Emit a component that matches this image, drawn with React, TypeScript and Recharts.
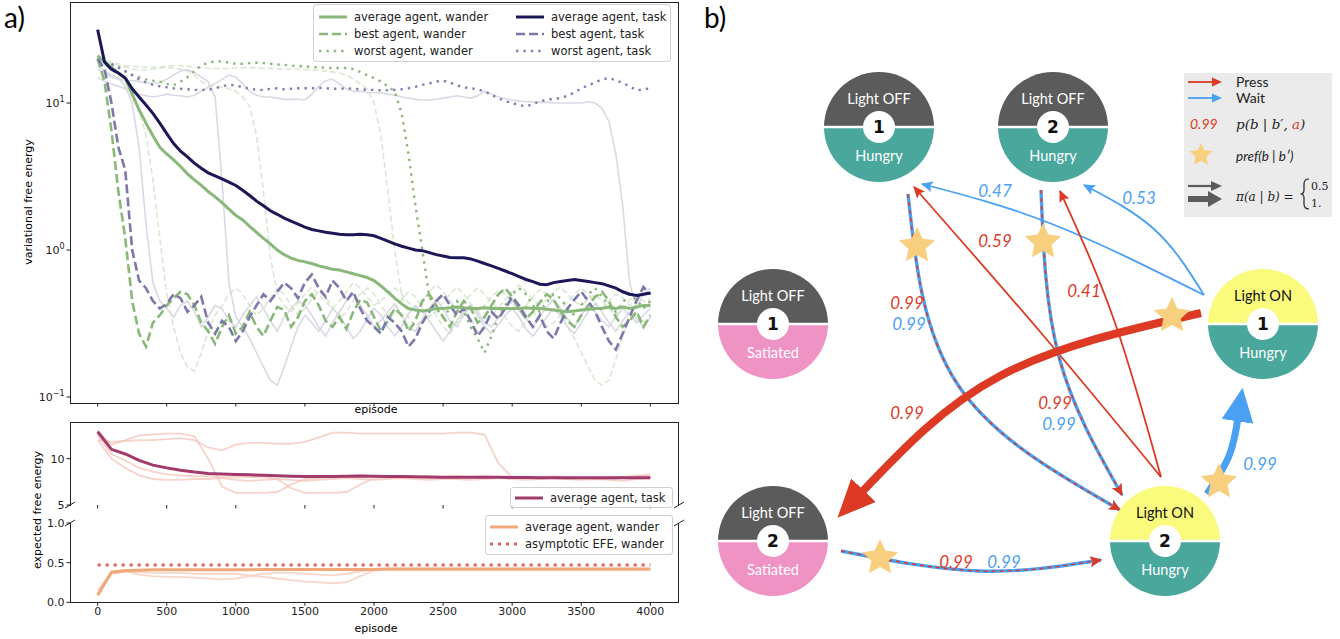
import { LineChart, Line, XAxis, YAxis, ComposedChart, Scatter } from 'recharts'

// ---------- panel a: sample grid and series ----------
const EPISODES = [
  0, 50, 100, 150, 200, 250, 300, 350, 400, 450,
  500, 550, 600, 650, 700, 750, 800, 850, 900, 950,
  1000, 1050, 1100, 1150, 1200, 1250, 1300, 1350, 1400, 1450,
  1500, 1550, 1600, 1650, 1700, 1750, 1800, 1850, 1900, 1950,
  2000, 2050, 2100, 2150, 2200, 2250, 2300, 2350, 2400, 2450,
  2500, 2550, 2600, 2650, 2700, 2750, 2800, 2850, 2900, 2950,
  3000, 3050, 3100, 3150, 3200, 3250, 3300, 3350, 3400, 3450,
  3500, 3550, 3600, 3650, 3700, 3750, 3800, 3850, 3900, 3950,
  4000,
]

const EPISODES_COARSE = [
  0, 100, 200, 300, 400, 500, 600, 700, 800, 900,
  1000, 1100, 1200, 1300, 1400, 1500, 1600, 1700, 1800, 1900,
  2000, 2100, 2200, 2300, 2400, 2500, 2600, 2700, 2800, 2900,
  3000, 3100, 3200, 3300, 3400, 3500, 3600, 3700, 3800, 3900,
  4000,
]

const EP_TICKS = [0, 500, 1000, 1500, 2000, 2500, 3000, 3500, 4000]

const vfeAvgWander = [
  21, 19, 17.5, 16, 14.8, 11.5, 9, 7.3, 6.0, 5.0,
  4.5, 4.1, 3.7, 3.3, 3.0, 2.75, 2.5, 2.3, 2.1, 1.9,
  1.72, 1.6, 1.45, 1.32, 1.2, 1.1, 1.0, 0.93, 0.88, 0.85,
  0.83, 0.81, 0.78, 0.76, 0.74, 0.73, 0.71, 0.69, 0.67, 0.65,
  0.62, 0.57, 0.52, 0.47, 0.43, 0.40, 0.39, 0.385, 0.39, 0.40,
  0.40, 0.405, 0.41, 0.405, 0.40, 0.40, 0.405, 0.40, 0.40, 0.40,
  0.40, 0.40, 0.405, 0.40, 0.40, 0.395, 0.39, 0.385, 0.38, 0.385,
  0.39, 0.395, 0.40, 0.40, 0.41, 0.40, 0.41, 0.40, 0.41, 0.42,
  0.42,
]

const vfeAvgTask = [
  31.6, 19, 17, 16, 14.8, 12.5, 11, 9.7, 8.5, 7.3,
  6.2, 5.3, 4.7, 4.3, 3.9, 3.6, 3.35, 3.2, 3.05, 2.9,
  2.75, 2.55, 2.35, 2.15, 2.0, 1.85, 1.75, 1.65, 1.57, 1.5,
  1.43, 1.38, 1.35, 1.32, 1.3, 1.28, 1.27, 1.27, 1.28, 1.27,
  1.25, 1.2, 1.15, 1.1, 1.06, 1.03, 1.0, 0.99, 0.96, 0.93,
  0.91, 0.89, 0.885, 0.885, 0.87, 0.84, 0.81, 0.78, 0.75, 0.72,
  0.69, 0.66, 0.63, 0.61, 0.585, 0.58, 0.6, 0.61, 0.62, 0.63,
  0.62, 0.61, 0.6, 0.59, 0.57, 0.55, 0.52, 0.5, 0.49, 0.5,
  0.51,
]

const vfeBestWander = [
  20, 14, 6.5, 2.5, 1.2, 0.45, 0.27, 0.22, 0.32, 0.36,
  0.42, 0.47, 0.52, 0.5, 0.42, 0.32, 0.28, 0.23, 0.3, 0.36,
  0.27, 0.3, 0.38, 0.3, 0.26, 0.33, 0.41, 0.39, 0.3, 0.35,
  0.45, 0.5, 0.42, 0.33, 0.3, 0.35, 0.29, 0.38, 0.46, 0.44,
  0.35, 0.28, 0.33, 0.4, 0.36, 0.28, 0.33, 0.45, 0.5, 0.42,
  0.35, 0.3, 0.38, 0.45, 0.4, 0.32, 0.35, 0.42, 0.5, 0.55,
  0.48, 0.4, 0.34, 0.38, 0.44, 0.5, 0.46, 0.38, 0.33, 0.3,
  0.36, 0.42, 0.48, 0.52, 0.45, 0.35, 0.3, 0.33, 0.38, 0.3,
  0.36,
]

const vfeBestTask = [
  20, 17, 10, 5, 3.5, 1.0, 0.62, 0.55, 0.45, 0.4,
  0.43, 0.5, 0.47, 0.38, 0.42, 0.48, 0.32, 0.27, 0.33, 0.3,
  0.24, 0.28, 0.35, 0.42, 0.5, 0.45, 0.52, 0.6, 0.55, 0.47,
  0.6, 0.68, 0.55, 0.48, 0.62, 0.55, 0.45, 0.52, 0.4, 0.33,
  0.3, 0.27, 0.35, 0.32, 0.28, 0.22, 0.25, 0.32, 0.38, 0.45,
  0.5, 0.42, 0.36, 0.4, 0.33, 0.26, 0.3, 0.38, 0.34, 0.4,
  0.48, 0.42, 0.35, 0.3, 0.36, 0.28, 0.25, 0.32, 0.4, 0.46,
  0.52, 0.45, 0.38, 0.3, 0.24, 0.21, 0.27, 0.35, 0.45, 0.56,
  0.5,
]

const vfeWorstWander = [
  20, 19, 18, 17.5, 16.4, 15.5, 15, 14.5, 14.2, 14,
  13.5, 13.2, 14, 15, 16.5, 18, 18.8, 19.2, 19.2, 18.8,
  18.5, 18.5, 18.7, 18.8, 18.7, 18.5, 18.3, 18.2, 18, 17.8,
  17.8, 17.6, 17.5, 17.4, 17.3, 17.3, 17.3, 17, 16.3, 15.5,
  14.8, 14, 13, 12, 8.5, 4.5, 2.0, 1.0, 0.48, 0.4,
  0.35, 0.4, 0.45, 0.38, 0.3, 0.25, 0.2, 0.26, 0.35, 0.42,
  0.5, 0.55, 0.5, 0.42, 0.38, 0.44, 0.5, 0.47, 0.4, 0.36,
  0.42, 0.5, 0.55, 0.48, 0.42, 0.38, 0.44, 0.5, 0.46, 0.4,
  0.45,
]

const vfeWorstTask = [
  20, 19, 18.5, 17.5, 16.5, 15.5, 14.5, 13.8, 13.3, 13,
  12.8, 12.6, 12.5, 12.4, 12.3, 12.3, 12.3, 12.6, 13, 13.3,
  13.2, 12.8, 12.5, 12.3, 12.3, 12.5, 12.6, 12.4, 12.5, 12.6,
  12.6, 12.6, 12.7, 12.6, 12.5, 12.5, 12.6, 12.5, 12.4, 12.3,
  12.3, 12.2, 12.2, 12.3, 12.4, 12.6, 12.9, 13.3, 13.6, 14,
  14.2, 13.8, 13.2, 12.8, 12.6, 12.4, 12.0, 11.4, 10.8, 10.3,
  10, 9.7, 9.5, 9.8, 10.3, 10.5, 10.7, 10.8, 11.2, 11.8,
  12.6, 13.2, 13.8, 14.5, 14.8, 14.3, 13.7, 13, 12.2, 12.4,
  12.6,
]

// individual agents, drawn faint
const vfeGrayA = [
  18, 16.5, 15.5, 14.8, 13, 10, 5, 1.5, 0.6, 0.45,
  0.4, 0.35, 0.42, 0.45, 0.38, 0.3, 0.35, 0.42, 0.4, 0.33,
  0.3, 0.36, 0.42, 0.48, 0.4, 0.33, 0.28, 0.35, 0.4, 0.45,
  0.42, 0.36, 0.3, 0.26, 0.32, 0.38, 0.45, 0.5, 0.42, 0.36,
  0.3, 0.33, 0.38, 0.43, 0.36, 0.3, 0.28, 0.34, 0.4, 0.46,
  0.4, 0.33, 0.3, 0.36, 0.42, 0.38, 0.32, 0.3, 0.35, 0.4,
  0.45, 0.4, 0.34, 0.3, 0.35, 0.41, 0.46, 0.4, 0.34, 0.3,
  0.36, 0.42, 0.38, 0.33, 0.3, 0.35, 0.4, 0.36, 0.32, 0.36,
  0.4,
]

const vfeGrayB = [
  17, 16, 15, 14.5, 14.3, 14.2, 14, 13.8, 13.6, 13.8,
  14.5, 15.5, 16.5, 16.8, 16.2, 15, 14, 11, 3, 0.6,
  0.35, 0.3, 0.25, 0.2, 0.16, 0.13, 0.12, 0.16, 0.22, 0.3,
  0.36, 0.32, 0.28, 0.33, 0.4, 0.36, 0.3, 0.25, 0.28, 0.34,
  0.4, 0.36, 0.3, 0.26, 0.3, 0.37, 0.42, 0.38, 0.33, 0.28,
  0.24, 0.28, 0.33, 0.38, 0.42, 0.36, 0.3, 0.27, 0.31, 0.36,
  0.4, 0.35, 0.29, 0.26, 0.3, 0.35, 0.4, 0.36, 0.3, 0.27,
  0.32, 0.38, 0.43, 0.38, 0.32, 0.28, 0.33, 0.38, 0.34, 0.3,
  0.35,
]

const vfeGrayC = [
  15, 14, 13.5, 13, 12.5, 12, 11.5, 11.2, 11, 11.2,
  11.5, 11.3, 11.2, 11, 11.3, 12, 12.8, 13.5, 14.5, 15.5,
  15, 13.5, 12, 11.3, 11, 11, 10.8, 10.6, 10.6, 10.6,
  10.5, 11.5, 13, 14.2, 14.5, 13.5, 12.5, 12, 12, 11.8,
  11.8, 11.7, 11.5, 11.3, 11, 10.8, 10.6, 10.5, 10.5, 10.6,
  10.8, 11, 11.2, 11, 10.8, 11.2, 12, 11.5, 11, 10.7,
  10.5, 10.3, 10.2, 10.2, 10.1, 10.1, 10, 10, 10, 10,
  10, 10.2, 10, 9.2, 7.5, 4.5, 2, 0.6, 0.4, 0.5,
  0.55,
]

const vfeLightA = [
  20, 18, 17, 15, 13, 11, 9, 6, 3, 1.2,
  0.5, 0.3, 0.2, 0.16, 0.15, 0.2, 0.28, 0.36, 0.42, 0.5,
  0.55, 0.5, 0.42, 0.36, 0.4, 0.47, 0.55, 0.5, 0.42, 0.36,
  0.4, 0.46, 0.52, 0.48, 0.4, 0.34, 0.38, 0.45, 0.5, 0.55,
  0.5, 0.42, 0.36, 0.4, 0.46, 0.52, 0.48, 0.4, 0.35, 0.38,
  0.44, 0.5, 0.56, 0.5, 0.43, 0.38, 0.42, 0.48, 0.53, 0.5,
  0.44, 0.38, 0.42, 0.48, 0.54, 0.5, 0.44, 0.4, 0.44, 0.5,
  0.55, 0.5, 0.44, 0.4, 0.45, 0.5, 0.47, 0.42, 0.46, 0.5,
  0.45,
]

const vfeLightB = [
  20, 19, 18.5, 18, 17.5, 17, 16.8, 16.8, 17, 17.3,
  17.5, 17.3, 17, 16.5, 15.5, 14, 13.2, 13, 12.8, 12.5,
  12, 11, 9.5, 6, 2.5, 0.9, 0.5, 0.42, 0.38, 0.44,
  0.5, 0.56, 0.5, 0.44, 0.4, 0.45, 0.52, 0.6, 0.55, 0.48,
  0.42, 0.45, 0.5, 0.55, 0.5, 0.44, 0.4, 0.45, 0.52, 0.58,
  0.52, 0.45, 0.4, 0.44, 0.5, 0.55, 0.5, 0.44, 0.4, 0.46,
  0.52, 0.58, 0.52, 0.46, 0.42, 0.46, 0.52, 0.56, 0.5, 0.45,
  0.42, 0.46, 0.5, 0.45, 0.4, 0.36, 0.4, 0.46, 0.5, 0.45,
  0.42,
]

const vfeLightC = [
  20, 19.5, 19, 18.5, 18, 17.8, 17.6, 17.5, 17.5, 17.6,
  17.8, 18, 18, 17.8, 17.6, 17.5, 17.3, 17.2, 17.2, 17.2,
  17.3, 17.4, 17.4, 17.3, 17.2, 17.2, 17.1, 17, 17, 17,
  16.9, 16.8, 16.7, 16.5, 16.3, 16, 15.5, 14.5, 13.5, 12.5,
  10, 6, 2.5, 1.0, 0.5, 0.35, 0.3, 0.34, 0.4, 0.36,
  0.3, 0.27, 0.32, 0.38, 0.34, 0.28, 0.3, 0.36, 0.4, 0.35,
  0.3, 0.28, 0.33, 0.38, 0.34, 0.3, 0.32, 0.36, 0.3, 0.25,
  0.2, 0.16, 0.13, 0.12, 0.13, 0.18, 0.26, 0.34, 0.38, 0.33,
  0.3,
]

// expected free energy, task (upper broken panel)
const efeAvgTask = [
  12.9, 11, 10.5, 9.8, 9.3, 9.0, 8.75, 8.55, 8.4, 8.35,
  8.3, 8.25, 8.2, 8.15, 8.1, 8.08, 8.06, 8.08, 8.1, 8.12,
  8.1, 8.08, 8.06, 8.05, 8.03, 8.0, 8.0, 8.0, 8.0, 7.98,
  7.96, 7.96, 7.95, 7.95, 7.95, 7.95, 7.95, 7.93, 7.93, 7.93,
  7.93,
]

const efeTaskA = [
  13, 11.5, 12, 12.5, 12.6, 12.7, 12.7, 12.4, 10, 7,
  6.3, 6.3, 6.3, 6.4, 7.2, 7.8, 7.9, 8, 8.1, 8.2,
  8.1, 8.0, 7.9, 8.0, 8.1, 8.0, 7.9, 8.0, 8.1, 8.0,
  7.9, 8.0, 8.0, 7.9, 7.8, 7.9, 8.0, 7.9, 8.0, 8.2,
  8.1,
]

const efeTaskB = [
  12, 11.8, 11.9, 12, 12, 12.1, 12.2, 12, 11.2, 10.9,
  11.5, 11.7, 11.7, 11.6, 11.6, 11.8, 12.3, 12.8, 12.8, 12.7,
  12.7, 12.7, 12.7, 12.7, 12.7, 12.7, 12.8, 12.8, 12.6, 9.5,
  8.0, 7.9, 7.9, 8.0, 7.9, 7.9, 7.8, 7.8, 7.9, 8.1,
  8.3,
]

const efeTaskC = [
  12, 10, 9, 8.2, 7.8, 7.7, 7.7, 7.8, 7.8, 7.9,
  7.7, 7.6, 7.7, 7.8, 7.7, 7.6, 7.7, 7.8, 7.9, 7.8,
  7.7, 7.8, 7.9, 7.8, 7.7, 7.8, 7.8, 7.7, 7.8, 7.9,
  7.8, 7.7, 7.8, 7.9, 7.8, 7.7, 7.8, 7.7, 7.6, 7.8,
  7.9,
]

const efeTaskD = [
  12.5, 10.5, 9.8, 9, 8.6, 8.3, 8.2, 8.1, 8.1, 8,
  8, 8, 8, 7.8, 6.8, 6.3, 6.3, 6.3, 6.4, 7.2,
  7.9, 8.0, 8.1, 8.0, 7.9, 8.0, 8.1, 8.0, 7.9, 8.0,
  8.0, 7.9, 8.0, 8.1, 8.0, 7.9, 7.9, 8.0, 8.0, 7.9,
  8.0,
]

// expected free energy, wander (lower broken panel)
const efeAvgWander = [
  0.09, 0.38, 0.40, 0.405, 0.41, 0.41, 0.41, 0.41, 0.41, 0.41,
  0.41, 0.41, 0.415, 0.415, 0.415, 0.415, 0.415, 0.415, 0.415, 0.415,
  0.415, 0.42, 0.42, 0.42, 0.42, 0.42, 0.42, 0.42, 0.42, 0.42,
  0.42, 0.42, 0.42, 0.42, 0.42, 0.42, 0.42, 0.42, 0.42, 0.42,
  0.42,
]

const efeAsymptote = [
  0.47, 0.47, 0.47, 0.47, 0.47, 0.47, 0.47, 0.47, 0.47, 0.47,
  0.47, 0.47, 0.47, 0.47, 0.47, 0.47, 0.47, 0.47, 0.47, 0.47,
  0.47, 0.47, 0.47, 0.47, 0.47, 0.47, 0.47, 0.47, 0.47, 0.47,
  0.47, 0.47, 0.47, 0.47, 0.47, 0.47, 0.47, 0.47, 0.47, 0.47,
  0.47,
]

const efeWanderA = [
  0.15, 0.37, 0.39, 0.35, 0.33, 0.32, 0.32, 0.31, 0.30, 0.29,
  0.30, 0.33, 0.36, 0.37, 0.37, 0.36, 0.35, 0.34, 0.36, 0.39,
  0.41, 0.41, 0.41, 0.41, 0.41, 0.41, 0.41, 0.41, 0.41, 0.41,
  0.41, 0.41, 0.41, 0.41, 0.41, 0.41, 0.41, 0.41, 0.41, 0.41,
  0.41,
]

const efeWanderB = [
  0.1, 0.36, 0.38, 0.38, 0.37, 0.37, 0.37, 0.36, 0.36, 0.36,
  0.36, 0.34, 0.32, 0.3, 0.28, 0.26, 0.25, 0.24, 0.25, 0.33,
  0.40, 0.41, 0.41, 0.41, 0.41, 0.41, 0.41, 0.41, 0.41, 0.41,
  0.41, 0.41, 0.41, 0.41, 0.41, 0.41, 0.41, 0.41, 0.41, 0.41,
  0.41,
]

// ---------- panel b: state graph ----------
const STATES = [
  { x: 879, y: 127, top: 'Light OFF', num: '1', bottom: 'Hungry', on: false, sated: false },
  { x: 1053, y: 127, top: 'Light OFF', num: '2', bottom: 'Hungry', on: false, sated: false },
  { x: 773, y: 324, top: 'Light OFF', num: '1', bottom: 'Satiated', on: false, sated: true },
  { x: 1263, y: 324, top: 'Light ON', num: '1', bottom: 'Hungry', on: true, sated: false },
  { x: 773, y: 541, top: 'Light OFF', num: '2', bottom: 'Satiated', on: false, sated: true },
  { x: 1165, y: 541, top: 'Light ON', num: '2', bottom: 'Hungry', on: true, sated: false },
]

// kind: press | wait | both ; weight: thin | thick
const TRANSITIONS = [
  { kind: 'wait', weight: 'thin', path: [[1204, 295], [1052, 224], [922, 184]] },
  { kind: 'wait', weight: 'thin', path: [[1204, 295], [1155, 230], [1084, 185]] },
  { kind: 'press', weight: 'thin', path: [[1161, 477], [1042, 334], [914, 187]] },
  { kind: 'press', weight: 'thin', path: [[1161, 477], [1114, 320], [1060, 191]] },
  { kind: 'both', weight: 'thin', path: [[908, 194], [958, 385], [1120, 510]] },
  { kind: 'both', weight: 'thin', path: [[1041, 190], [1059, 357], [1122, 495]] },
  { kind: 'both', weight: 'thin', path: [[841, 551], [979, 571], [1101, 560]] },
  { kind: 'press', weight: 'thick', path: [[1201, 313], [1000, 376], [861, 493]] },
  { kind: 'wait', weight: 'thick', path: [[1207, 494], [1229, 456], [1238, 418]] },
]

const PROBABILITIES = [
  { x: 995, y: 191, text: '0.47', kind: 'wait' },
  { x: 1139, y: 198, text: '0.53', kind: 'wait' },
  { x: 995, y: 241, text: '0.59', kind: 'press' },
  { x: 1084, y: 291, text: '0.41', kind: 'press' },
  { x: 907, y: 303, text: '0.99', kind: 'press' },
  { x: 909, y: 324, text: '0.99', kind: 'wait' },
  { x: 907, y: 413, text: '0.99', kind: 'press' },
  { x: 1055, y: 403, text: '0.99', kind: 'press' },
  { x: 1059, y: 424, text: '0.99', kind: 'wait' },
  { x: 1260, y: 464, text: '0.99', kind: 'wait' },
  { x: 956, y: 562, text: '0.99', kind: 'press' },
  { x: 1004, y: 562, text: '0.99', kind: 'wait' },
]

const PREFERENCES = [
  { x: 917, y: 246 },
  { x: 1043, y: 242 },
  { x: 1172, y: 316 },
  { x: 1219, y: 482 },
  { x: 880, y: 558 },
]

const RED = '#dc3a25'
const BLUE = '#4aa0f2'
const STAR = '#f8cf7e'
const MPL = 'DejaVu Sans, sans-serif'
const SANS = 'Lato, "Open Sans", sans-serif'
const SERIF = 'DejaVu Serif, serif'

const rows = (xs: number[], ys: number[]) => xs.map((ep, i) => ({ ep, v: ys[i] }))

const blankTick = () => <g />

function LogTick(props: any) {
  const { x, y, payload } = props
  const e = Math.round(Math.log10(payload.value))
  const sup = e < 0 ? '\u2212' + Math.abs(e) : String(e)
  return (
    <text x={x} y={y + 4} textAnchor="end" fontSize={11} fill="#222" fontFamily={MPL}>
      10<tspan dy={-5} fontSize={8}>{sup}</tspan>
    </text>
  )
}

function LegendRow({ color, width, dash, label }: { color: string; width: number; dash?: string; label: string }) {
  return (
    <div style={{ display: 'flex', alignItems: 'center', height: 17 }}>
      <svg width={30} height={10} style={{ marginRight: 6 }}>
        <line x1={1} y1={5} x2={29} y2={5} stroke={color} strokeWidth={width} strokeDasharray={dash} />
      </svg>
      <span>{label}</span>
    </div>
  )
}

function Frame({ left, top, width, height, sides }: { left: number; top: number; width: number; height: number; sides: string }) {
  const b = '1px solid #222'
  return (
    <div
      style={{
        position: 'absolute', left, top, width, height, boxSizing: 'border-box', pointerEvents: 'none',
        borderTop: sides.includes('t') ? b : 'none',
        borderBottom: sides.includes('b') ? b : 'none',
        borderLeft: sides.includes('l') ? b : 'none',
        borderRight: sides.includes('r') ? b : 'none',
      }}
    />
  )
}

function PanelA() {
  const gray = '#cfcfdd'
  const lightGreen = '#cfe2c6'
  const pink = '#f3c0b6'
  const axisTick = { fontSize: 11, fill: '#222', fontFamily: MPL }
  return (
    <>
      <div style={{ position: 'absolute', left: 4, top: 0, fontSize: 28, fontFamily: SANS }}>a)</div>

      {/* variational free energy */}
      <div style={{ position: 'absolute', left: 0, top: 0 }}>
        <LineChart width={690} height={420} margin={{ top: 2, right: 12, left: 0, bottom: 0 }}>
          <XAxis dataKey="ep" type="number" domain={[-200, 4200]} ticks={EP_TICKS} allowDataOverflow
            height={17} tick={blankTick} tickSize={3.5} axisLine={false} tickLine={{ stroke: '#222' }} />
          <YAxis type="number" scale="log" domain={[0.091, 48.7]} allowDataOverflow ticks={[0.1, 1, 10]}
            width={70} tick={<LogTick />} tickSize={3.5} axisLine={false} tickLine={{ stroke: '#222' }} />
          {[vfeGrayA, vfeGrayB, vfeGrayC].map((s, i) => (
            <Line key={'g' + i} data={rows(EPISODES, s)} dataKey="v" stroke={gray} strokeWidth={1.6}
              dot={false} isAnimationActive={false} strokeOpacity={0.8} />
          ))}
          {[vfeLightA, vfeLightB, vfeLightC].map((s, i) => (
            <Line key={'l' + i} data={rows(EPISODES, s)} dataKey="v" stroke={lightGreen} strokeWidth={1.6}
              strokeDasharray="6 3" dot={false} isAnimationActive={false} strokeOpacity={0.8} />
          ))}
          <Line data={rows(EPISODES, vfeWorstWander)} dataKey="v" stroke="#8ab87a" strokeWidth={2.4}
            strokeDasharray="2.4 5" dot={false} isAnimationActive={false} />
          <Line data={rows(EPISODES, vfeWorstTask)} dataKey="v" stroke="#837db0" strokeWidth={2.4}
            strokeDasharray="2.4 5" dot={false} isAnimationActive={false} />
          <Line data={rows(EPISODES, vfeBestWander)} dataKey="v" stroke="#8ab87a" strokeWidth={2.6}
            strokeDasharray="9 4" dot={false} isAnimationActive={false} />
          <Line data={rows(EPISODES, vfeBestTask)} dataKey="v" stroke="#7d78ab" strokeWidth={2.6}
            strokeDasharray="9 4" dot={false} isAnimationActive={false} />
          <Line data={rows(EPISODES, vfeAvgWander)} dataKey="v" stroke="#8ab87a" strokeWidth={3}
            dot={false} isAnimationActive={false} />
          <Line data={rows(EPISODES, vfeAvgTask)} dataKey="v" stroke="#1c1858" strokeWidth={3}
            dot={false} isAnimationActive={false} />
        </LineChart>
      </div>
      <Frame left={70} top={2} width={609} height={402} sides="tblr" />
      <div style={{
        position: 'absolute', left: 313, top: 4, width: 358, height: 58, boxSizing: 'border-box',
        border: '1px solid #d0d0d0', borderRadius: 3, background: 'rgba(255,255,255,0.85)',
        fontFamily: MPL, fontSize: 11.5, color: '#222', padding: '3px 0 0 4px',
        display: 'grid', gridTemplateColumns: '197px 160px',
      }}>
        <div>
          <LegendRow color="#8ab87a" width={3} label="average agent, wander" />
          <LegendRow color="#8ab87a" width={2.6} dash="9 4" label="best agent, wander" />
          <LegendRow color="#8ab87a" width={2.4} dash="2.4 5" label="worst agent, wander" />
        </div>
        <div>
          <LegendRow color="#1c1858" width={3} label="average agent, task" />
          <LegendRow color="#7d78ab" width={2.6} dash="9 4" label="best agent, task" />
          <LegendRow color="#837db0" width={2.4} dash="2.4 5" label="worst agent, task" />
        </div>
      </div>
      <div style={{ position: 'absolute', left: 336, top: 403, width: 80, textAlign: 'center', fontFamily: MPL, fontSize: 11 }}>episode</div>
      <div style={{
        position: 'absolute', left: 28, top: 202, transform: 'translate(-50%,-50%) rotate(-90deg)',
        whiteSpace: 'nowrap', fontFamily: MPL, fontSize: 11,
      }}>variational free energy</div>

      {/* expected free energy, task part */}
      <div style={{ position: 'absolute', left: 0, top: 400 }}>
        <LineChart width={690} height={124} margin={{ top: 21.5, right: 12, left: 0, bottom: 0 }}>
          <XAxis dataKey="ep" type="number" domain={[-200, 4200]} ticks={EP_TICKS} allowDataOverflow
            height={19} tick={blankTick} tickSize={3.5} axisLine={false} tickLine={{ stroke: '#222' }} />
          <YAxis type="number" domain={[5, 14]} ticks={[5, 10]} allowDataOverflow width={70}
            tick={axisTick} tickSize={3.5} axisLine={false} tickLine={{ stroke: '#222' }} />
          {[efeTaskA, efeTaskB, efeTaskC, efeTaskD].map((s, i) => (
            <Line key={'t' + i} data={rows(EPISODES_COARSE, s)} dataKey="v" stroke={pink} strokeWidth={1.8}
              strokeOpacity={0.7} dot={false} isAnimationActive={false} />
          ))}
          <Line data={rows(EPISODES_COARSE, efeAvgTask)} dataKey="v" stroke="#a23a6c" strokeWidth={3}
            dot={false} isAnimationActive={false} />
        </LineChart>
      </div>
      <Frame left={70} top={421.5} width={609} height={84} sides="tlr" />
      <div style={{
        position: 'absolute', left: 510, top: 487, width: 163, height: 21, boxSizing: 'border-box',
        border: '1px solid #d0d0d0', borderRadius: 3, background: 'rgba(255,255,255,0.85)',
        fontFamily: MPL, fontSize: 11.5, color: '#222', padding: '1px 0 0 3px',
      }}>
        <LegendRow color="#a23a6c" width={3} label="average agent, task" />
      </div>

      {/* expected free energy, wander part */}
      <div style={{ position: 'absolute', left: 0, top: 515 }}>
        <LineChart width={690} height={124} margin={{ top: 8, right: 12, left: 0, bottom: 0 }}>
          <XAxis dataKey="ep" type="number" domain={[-200, 4200]} ticks={EP_TICKS} allowDataOverflow
            height={36.7} tick={axisTick} tickSize={3.5} tickMargin={1} axisLine={false} tickLine={{ stroke: '#222' }} />
          <YAxis type="number" domain={[0, 1]} ticks={[0, 0.5, 1]} allowDataOverflow width={70}
            tick={axisTick} tickFormatter={(v: number) => v.toFixed(1)} tickSize={3.5} axisLine={false}
            tickLine={{ stroke: '#222' }} />
          {[efeWanderA, efeWanderB].map((s, i) => (
            <Line key={'w' + i} data={rows(EPISODES_COARSE, s)} dataKey="v" stroke="#f5cdbc" strokeWidth={1.8}
              strokeOpacity={0.8} dot={false} isAnimationActive={false} />
          ))}
          <Line data={rows(EPISODES_COARSE, efeAvgWander)} dataKey="v" stroke="#f0a878" strokeWidth={3}
            dot={false} isAnimationActive={false} />
          <Line data={rows(EPISODES_COARSE, efeAsymptote)} dataKey="v" stroke="#e0605a" strokeWidth={3}
            strokeDasharray="3 5" dot={false} isAnimationActive={false} />
        </LineChart>
      </div>
      <Frame left={70} top={523} width={609} height={80} sides="blr" />
      <div style={{
        position: 'absolute', left: 485, top: 515, width: 188, height: 40, boxSizing: 'border-box',
        border: '1px solid #d0d0d0', borderRadius: 3, background: 'rgba(255,255,255,0.85)',
        fontFamily: MPL, fontSize: 11.5, color: '#222', padding: '2px 0 0 3px',
      }}>
        <LegendRow color="#f0a878" width={3} label="average agent, wander" />
        <LegendRow color="#e0605a" width={3} dash="3 5" label="asymptotic EFE, wander" />
      </div>
      <div style={{ position: 'absolute', left: 336, top: 622, width: 80, textAlign: 'center', fontFamily: MPL, fontSize: 11 }}>episode</div>
      <div style={{
        position: 'absolute', left: 37, top: 510, transform: 'translate(-50%,-50%) rotate(-90deg)',
        whiteSpace: 'nowrap', fontFamily: MPL, fontSize: 11,
      }}>expected free energy</div>
      <svg width={690} height={40} style={{ position: 'absolute', left: 0, top: 495 }}>
        {[70, 679].map((x) => (
          <g key={x} stroke="#222" strokeWidth={1}>
            <line x1={x - 5} y1={13} x2={x + 5} y2={7} />
            <line x1={x - 5} y1={31} x2={x + 5} y2={25} />
          </g>
        ))}
      </svg>
    </>
  )
}

function StateNode(props: any) {
  const { cx, cy, payload } = props
  const R = 55
  const topFill = payload.on ? '#fafa7c' : '#5b5b5b'
  const botFill = payload.sated ? '#ef93c4' : '#4aa79c'
  const topText = payload.on ? '#111' : '#fff'
  return (
    <g>
      <path d={`M${cx - R},${cy} A${R},${R} 0 0 1 ${cx + R},${cy} Z`} fill={topFill} />
      <path d={`M${cx - R},${cy} A${R},${R} 0 0 0 ${cx + R},${cy} Z`} fill={botFill} />
      <line x1={cx - R} y1={cy} x2={cx + R} y2={cy} stroke="#fff" strokeWidth={2.5} />
      <circle cx={cx} cy={cy} r={16} fill="#fff" />
      <text x={cx} y={cy + 6} textAnchor="middle" fontSize={17} fontWeight="bold" fontFamily={MPL} fill="#111">{payload.num}</text>
      <text x={cx} y={cy - 23} textAnchor="middle" fontSize={14.5} fontFamily={SANS} fill={topText}>{payload.top}</text>
      <text x={cx} y={cy + 34} textAnchor="middle" fontSize={14.5} fontFamily={SANS} fill="#fff">{payload.bottom}</text>
    </g>
  )
}

function starPoints(cx: number, cy: number, R: number) {
  const pts: string[] = []
  for (let i = 0; i < 10; i++) {
    const r = i % 2 === 0 ? R : R * 0.48
    const a = (-90 + i * 36) * Math.PI / 180
    pts.push(`${cx + r * Math.cos(a)},${cy + r * Math.sin(a)}`)
  }
  return pts.join(' ')
}

function PrefStar(props: any) {
  const { cx, cy } = props
  return <polygon points={starPoints(cx, cy, 19)} fill={STAR} />
}

function ProbLabel(props: any) {
  const { cx, cy, payload } = props
  return (
    <text x={cx} y={cy + 6} textAnchor="middle" fontSize={17} fontStyle="italic" fontFamily={SANS}
      fill={payload.kind === 'press' ? RED : BLUE}>{payload.text}</text>
  )
}

function ArrowDefs() {
  const head = (id: string, color: string, size: number, refX: number) => (
    <marker id={id} viewBox="0 0 10 10" refX={refX} refY={5} markerWidth={size} markerHeight={size}
      markerUnits="userSpaceOnUse" orient="auto">
      <path d="M0,0.5 L10,5 L0,9.5 L2,5 z" fill={color} />
    </marker>
  )
  return (
    <svg width={0} height={0} style={{ position: 'absolute' }}>
      <defs>
        {head('hRed', RED, 12, 9)}
        {head('hBlue', BLUE, 12, 9)}
        <marker id="hRedBig" viewBox="0 0 10 10" refX={1} refY={5} markerWidth={38} markerHeight={34}
          markerUnits="userSpaceOnUse" orient="auto" preserveAspectRatio="none">
          <path d="M0,0 L10,5 L0,10 z" fill={RED} />
        </marker>
        <marker id="hBlueBig" viewBox="0 0 10 10" refX={1} refY={5} markerWidth={34} markerHeight={32}
          markerUnits="userSpaceOnUse" orient="auto" preserveAspectRatio="none">
          <path d="M0,0 L10,5 L0,10 z" fill={BLUE} />
        </marker>
      </defs>
    </svg>
  )
}

function PanelB() {
  const pts = (p: number[][]) => p.map(([x, y]) => ({ x, y }))
  return (
    <>
      <div style={{ position: 'absolute', left: 704, top: 0, fontSize: 28, fontFamily: SANS }}>b)</div>
      <div style={{ position: 'absolute', left: 700, top: 0 }}>
        <ComposedChart width={640} height={639} margin={{ top: 0, right: 0, left: 0, bottom: 0 }}>
          <XAxis dataKey="x" type="number" domain={[700, 1340]} hide allowDataOverflow />
          <YAxis dataKey="y" type="number" domain={[0, 639]} reversed hide allowDataOverflow />
          {TRANSITIONS.map((t, i) => {
            const d = pts(t.path)
            if (t.kind === 'both') {
              return [
                <Line key={'b' + i} data={d} dataKey="y" type="natural" stroke={BLUE} strokeWidth={3.4}
                  dot={false} isAnimationActive={false} markerEnd="url(#hBlue)" />,
                <Line key={'r' + i} data={d} dataKey="y" type="natural" stroke={RED} strokeWidth={1.5}
                  strokeDasharray="4 4" dot={false} isAnimationActive={false} markerEnd="url(#hRed)" />,
              ]
            }
            const color = t.kind === 'press' ? RED : BLUE
            const thick = t.weight === 'thick'
            const marker = thick ? (t.kind === 'press' ? 'url(#hRedBig)' : 'url(#hBlueBig)')
              : (t.kind === 'press' ? 'url(#hRed)' : 'url(#hBlue)')
            return (
              <Line key={'e' + i} data={d} dataKey="y" type="natural" stroke={color}
                strokeWidth={thick ? (t.kind === 'press' ? 8 : 7) : 1.8}
                dot={false} isAnimationActive={false} markerEnd={marker} />
            )
          })}
          <Scatter data={STATES} dataKey="y" shape={StateNode} isAnimationActive={false} />
          <Scatter data={PREFERENCES} dataKey="y" shape={PrefStar} isAnimationActive={false} />
          <Scatter data={PROBABILITIES} dataKey="y" shape={ProbLabel} isAnimationActive={false} />
        </ComposedChart>
      </div>

      {/* legend */}
      <svg width={148} height={144} style={{ position: 'absolute', left: 1184, top: 73 }}>
        <rect x={0} y={0} width={148} height={144} fill="#ebebeb" />
        <line x1={4} y1={9} x2={30} y2={9} stroke={RED} strokeWidth={1.8} />
        <path d="M28,4.5 L38,9 L28,13.5 z" fill={RED} />
        <line x1={4} y1={25} x2={30} y2={25} stroke={BLUE} strokeWidth={1.8} />
        <path d="M28,20.5 L38,25 L28,29.5 z" fill={BLUE} />
        <text x={52} y={14} fontSize={14} fontFamily={SANS} fill="#222">Press</text>
        <text x={52} y={30} fontSize={14} fontFamily={SANS} fill="#222">Wait</text>
        <text x={6} y={56} fontSize={14} fontStyle="italic" fontFamily={SANS} fill={RED}>0.99</text>
        <text x={52} y={56} fontSize={13.5} fontStyle="italic" fontFamily={SERIF} fill="#222">
          p(b | b′, <tspan fill={RED}>a</tspan>)
        </text>
        <polygon points={starPoints(17, 82, 12)} fill={STAR} />
        <text x={52} y={88} fontSize={13.5} fontStyle="italic" fontFamily={SANS} fill="#222">pref(b | b′)</text>
        <line x1={4} y1={113} x2={30} y2={113} stroke="#5b5b5b" strokeWidth={2.2} />
        <path d="M27,108 L38,113 L27,118 z" fill="#5b5b5b" />
        <line x1={4} y1={126} x2={27} y2={126} stroke="#5b5b5b" strokeWidth={6} />
        <path d="M24,118 L38,126 L24,134 z" fill="#5b5b5b" />
        <text x={52} y={128} fontSize={12} fontStyle="italic" fontFamily={SERIF} fill="#222">π(a | b) =</text>
        <path d="M125,106 Q120,106 120,111 L120,117 Q120,121 116.5,121 Q120,121 120,125 L120,131 Q120,136 125,136"
          fill="none" stroke="#222" strokeWidth={1.2} />
        <text x={127} y={117} fontSize={11} fontFamily={SERIF} fill="#222">0.5</text>
        <text x={127} y={134} fontSize={11} fontFamily={SERIF} fill="#222">1.</text>
      </svg>
    </>
  )
}

export default function App() {
  return (
    <div style={{ position: 'absolute', left: 0, top: 0, width: 1340, height: 639, background: '#fff', overflow: 'hidden' }}>
      <ArrowDefs />
      <PanelA />
      <PanelB />
    </div>
  )
}
